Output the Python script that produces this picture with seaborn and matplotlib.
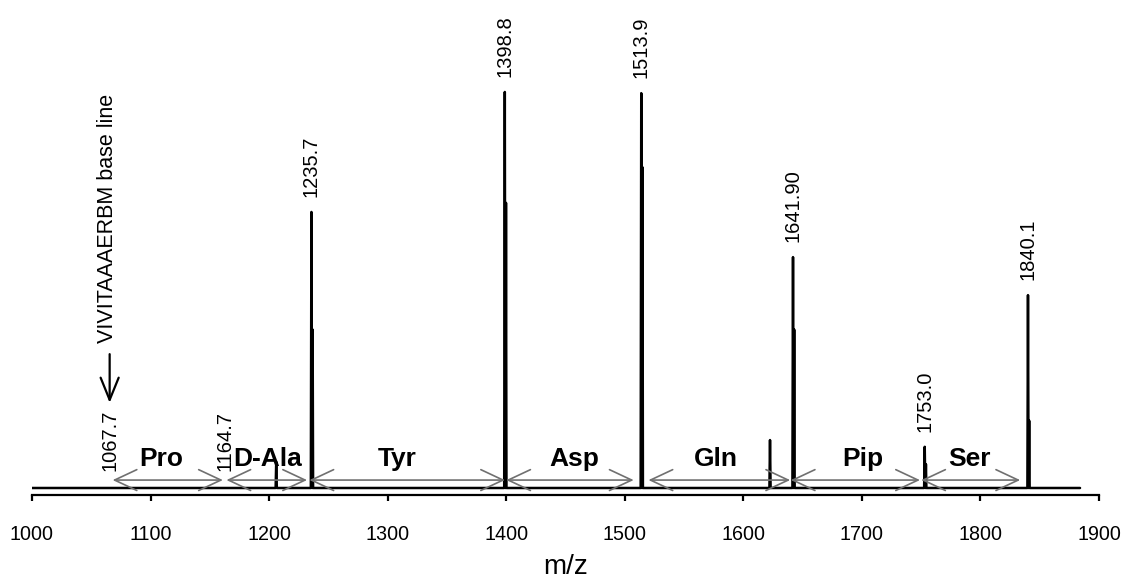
import numpy as np
import pandas as pd
import matplotlib
matplotlib.use("Agg")
import matplotlib.pyplot as plt
import seaborn as sns

# Labelled peaks (m/z, relative intensity)
peak_mz = [1235.7, 1398.8, 1513.9, 1641.90, 1753.0, 1840.1]
peak_int = [69.7, 100.0, 99.7, 58.3, 10.4, 48.7]
peak_labels = ["1235.7", "1398.8", "1513.9", "1641.90", "1753.0", "1840.1"]
# isotope shoulders sitting right next to the main peaks
iso_int = [40.0, 72.0, 81.0, 40.0, 6.0, 17.0]
# minor unlabelled peaks
minor_mz = [1206.0, 1622.5]
minor_int = [6.6, 12.1]
# reference positions on the base line
base_mz = [1067.7, 1164.7]
base_labels = ["1067.7", "1164.7"]
# residue spans between consecutive masses
residues = ["Pro", "D-Ala", "Tyr", "Asp", "Gln", "Pip", "Ser"]
span_start = [1068.0, 1164.0, 1234.0, 1400.0, 1520.0, 1640.0, 1750.0]
span_end = [1161.0, 1232.0, 1399.0, 1507.5, 1639.5, 1749.0, 1833.5]
residue_x = [1109, 1199, 1308, 1457, 1577, 1701, 1791]
scan_start, scan_end = 1000.0, 1884.0
x_ticks = list(range(1000, 2000, 100))

sns.set_theme(style="white")
plt.rcParams["font.family"] = ["Liberation Sans", "DejaVu Sans"]
plt.rcParams["text.color"] = "black"
plt.rcParams["axes.labelcolor"] = "black"
plt.rcParams["xtick.color"] = "black"

# assemble the spectrum trace from the peak list
sticks = [(m, h, 0.0) for m, h in zip(minor_mz, minor_int)]
sticks += [(m, h, hi) for m, h, hi in zip(peak_mz, peak_int, iso_int)]
sticks.sort()
xs, ys = [scan_start], [0.0]
for m, h, hi in sticks:
    xs += [m - 0.5, m, m + 0.5]
    ys += [0.0, h, 0.0]
    if hi > 0:
        xs += [m + 0.6, m + 1.0, m + 1.4]
        ys += [0.0, hi, 0.0]
xs.append(scan_end)
ys.append(0.0)
spec = pd.DataFrame({"mz": xs, "intensity": ys})

fig = plt.figure(figsize=(11.22, 5.86), dpi=100)
ax = fig.add_axes([32 / 1122, 91 / 586, 1067 / 1122, 485 / 586])

sns.lineplot(data=spec, x="mz", y="intensity", estimator=None, sort=False,
             color="black", lw=1.8, ax=ax)

ax.set_xlim(1000, 1900)
ax.set_ylim(-1.77, 120.7)
ax.set_xticks(x_ticks)
ax.set_xticklabels([str(t) for t in x_ticks])
ax.set_yticks([])
ax.set_ylabel("")
ax.set_xlabel("m/z", fontsize=20, labelpad=7)
for side in ("top", "right", "left"):
    ax.spines[side].set_visible(False)
ax.spines["bottom"].set_linewidth(1.6)
ax.spines["bottom"].set_color("black")
ax.tick_params(axis="x", direction="out", length=4.5, width=1.6, colors="black",
               labelsize=14.2, pad=17, bottom=True)

# peak labels
for m, h, lab in zip(peak_mz, peak_int, peak_labels):
    ax.annotate(lab, xy=(m, h), xytext=(0, 11), textcoords="offset points",
                rotation=90, ha="center", va="bottom", fontsize=14.5)
for m, lab in zip(base_mz, base_labels):
    ax.annotate(lab, xy=(m - 2, 0), xytext=(0, 12), textcoords="offset points",
                rotation=90, ha="center", va="bottom", fontsize=14.5)

# residue spans
for name, a, b, lx in zip(residues, span_start, span_end, residue_x):
    ax.annotate("", xy=(b, 2.0), xytext=(a, 2.0),
                arrowprops=dict(arrowstyle="<->,head_length=1.6,head_width=0.75",
                                color="#707070", lw=1.2, shrinkA=0, shrinkB=0,
                                mutation_scale=10))
    ax.text(lx, 5.6, name, ha="center", va="baseline", fontsize=19,
            fontweight="bold")

# base line marker
ax.annotate("", xy=(1065.5, 21.5), xytext=(1065.5, 33.8),
            arrowprops=dict(arrowstyle="->,head_length=1.6,head_width=0.65",
                            color="black", lw=1.6, shrinkA=0, shrinkB=0,
                            mutation_scale=10))
ax.text(1063.5, 36.6, "VIVITAAAERBM base line", rotation=90, ha="center",
        va="bottom", fontsize=15.5)

fig.savefig("out.png", dpi=100)
